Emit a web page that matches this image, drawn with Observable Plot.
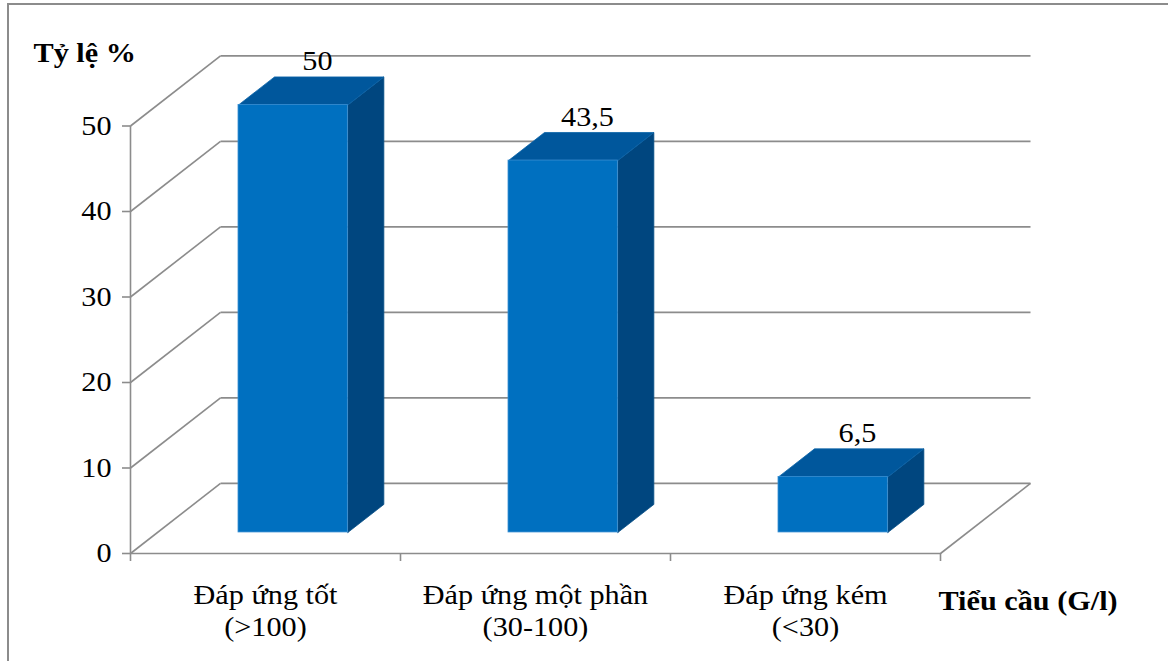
<!DOCTYPE html>
<html>
<head>
<meta charset="utf-8">
<script src="https://cdn.jsdelivr.net/npm/d3@7"></script>
<script src="https://cdn.jsdelivr.net/npm/@observablehq/plot@0.6"></script>
<style>
  html, body { margin: 0; padding: 0; background: #fff; }
  #wrap { position: relative; width: 1168px; height: 661px; overflow: hidden; }
  #edge { position: absolute; left: 7px; top: 3px; width: 1300px; height: 800px;
          border: 2px solid #8c8c8c; box-sizing: border-box; }
  #chart { position: absolute; left: 0; top: 0; }
  #chart svg { background: transparent; }
  #chart svg text { font-family: "Liberation Serif", "Tinos", "DejaVu Serif", "Noto Serif", "Times New Roman", serif; }
</style>
</head>
<body>
<div id="wrap"><div id="edge"></div><div id="chart"></div></div>
<script>
// Platelet response groups and their share of patients (%)
const categories = ["Đáp ứng tốt\n(>100)", "Đáp ứng một phần\n(30-100)", "Đáp ứng kém\n(<30)"];
const values = [50, 43.5, 6.5];
const valueLabels = ["50", "43,5", "6,5"];
const yTicks = [0, 10, 20, 30, 40, 50];
const yTitle = "Tỷ lệ %";
const xTitle = "Tiểu cầu (G/l)";

// Oblique projection: depth 0 is the front plane, depth 1 is the back wall.
// A full depth step shifts a point right by DEPTH_X categories and up by DEPTH_Y units.
const DEPTH_X = 1 / 3;
const DEPTH_Y = 8.2;
const proj = (c, v, d) => ({x: c + d * DEPTH_X, y: v + d * DEPTH_Y});

// Bar block inside its category slot: horizontal span and depth span
const BAR_A = 0.3, BAR_B = 0.705, BAR_D0 = 0.3, BAR_D1 = 0.7;

const bars = values.map((v, i) => ({i, v, label: valueLabels[i]}));

// Front faces as rectangles
const fronts = bars.map(({i, v}) => {
  const p0 = proj(i + BAR_A, 0, BAR_D0), p1 = proj(i + BAR_B, v, BAR_D0);
  return {i, x1: p0.x, x2: p1.x, y1: p0.y, y2: p1.y};
});

// Top and side faces as closed polygons
const tops = bars.flatMap(({i, v}) =>
  [[BAR_A, BAR_D0], [BAR_B, BAR_D0], [BAR_B, BAR_D1], [BAR_A, BAR_D1], [BAR_A, BAR_D0]]
    .map(([a, d]) => ({i, ...proj(i + a, v, d)})));
const sides = bars.flatMap(({i, v}) =>
  [[0, BAR_D0], [v, BAR_D0], [v, BAR_D1], [0, BAR_D1], [0, BAR_D0]]
    .map(([h, d]) => ({i, ...proj(i + BAR_B, h, d)})));

// Back-wall gridlines and the diagonals joining them to the front axis
const nCat = categories.length;
const backLines = yTicks.map(t => ({a: proj(0, t, 1), b: proj(nCat, t, 1)}));
const diagonals = yTicks.map(t => ({a: proj(0, t, 0), b: proj(0, t, 1)}))
  .concat([{a: proj(nCat, 0, 0), b: proj(nCat, 0, 1)}]);
const wireframe = backLines.concat(diagonals);

const grid = "#8c8c8c";
const serif = "Liberation Serif, Tinos, DejaVu Serif, Noto Serif, serif";
const fs = 27;

const chart = Plot.plot({
  width: 1168,
  height: 661,
  marginLeft: 130,
  marginRight: 228,
  marginTop: 125.5,
  marginBottom: 108,
  x: {domain: [0, nCat]},
  y: {domain: [0, 50]},
  style: {fontSize: fs + "px", color: "#000", background: "transparent"},
  marks: [
    Plot.link(wireframe, {x1: d => d.a.x, y1: d => d.a.y, x2: d => d.b.x, y2: d => d.b.y,
      stroke: grid, strokeWidth: 1.6}),
    Plot.ruleY([0], {x1: 0, x2: nCat, stroke: grid, strokeWidth: 1.6}),
    Plot.ruleX([0], {y1: 0, y2: 50, stroke: grid, strokeWidth: 1.6}),
    Plot.axisY({ticks: yTicks, tickSize: 8, tickPadding: 11, stroke: grid, strokeWidth: 1.6,
      fill: "#000", fontSize: fs, fontFamily: serif, label: null}),
    Plot.axisX({ticks: d3.range(nCat + 1), tickSize: 8, tickFormat: () => "",
      stroke: grid, strokeWidth: 1.6, label: null}),
    // Bars
    Plot.line(sides, {x: "x", y: "y", z: "i", fill: "#00467f", stroke: "#0a5088",
      strokeWidth: 0.8, curve: "linear"}),
    Plot.line(tops, {x: "x", y: "y", z: "i", fill: "#00579c", stroke: "#0a63a8",
      strokeWidth: 0.8, curve: "linear"}),
    Plot.rect(fronts, {x1: "x1", x2: "x2", y1: "y1", y2: "y2", fill: "#0070c0",
      stroke: "#3a8fd2", strokeWidth: 0.8}),
    // Value labels above each block
    Plot.text(bars, {
      x: d => proj(d.i + (BAR_A + BAR_B) / 2, d.v, 0.57).x,
      y: d => proj(d.i + (BAR_A + BAR_B) / 2, d.v, 0.57).y,
      text: "label", lineAnchor: "bottom", dy: -16,
      fontSize: fs, fontFamily: serif, fill: "#000"}),
    // Category labels
    Plot.text(categories, {x: (d, i) => i + 0.5, y: 0, text: d => d, lineAnchor: "top",
      dy: 27, lineHeight: 1.2, fontSize: fs, fontFamily: serif, fill: "#000"}),
    // Axis titles
    Plot.text([yTitle], {x: 0, y: 50, text: d => d, textAnchor: "start", lineAnchor: "bottom",
      dx: -97, dy: -64, fontSize: fs, fontWeight: "bold", fontFamily: serif, fill: "#000"}),
    Plot.text([xTitle], {x: nCat, y: 0, text: d => d, textAnchor: "start", lineAnchor: "bottom",
      dx: -2, dy: 56, fontSize: fs, fontWeight: "bold", fontFamily: serif, fill: "#000"})
  ]
});

// The lettering is set slightly wide; stretch each label about its own anchor.
d3.select(chart).selectAll("text").each(function () {
  const t = this.getAttribute("transform");
  if (t) this.setAttribute("transform", t + " scale(1.12,1)");
});

document.getElementById("chart").appendChild(chart);
</script>
</body>
</html>
